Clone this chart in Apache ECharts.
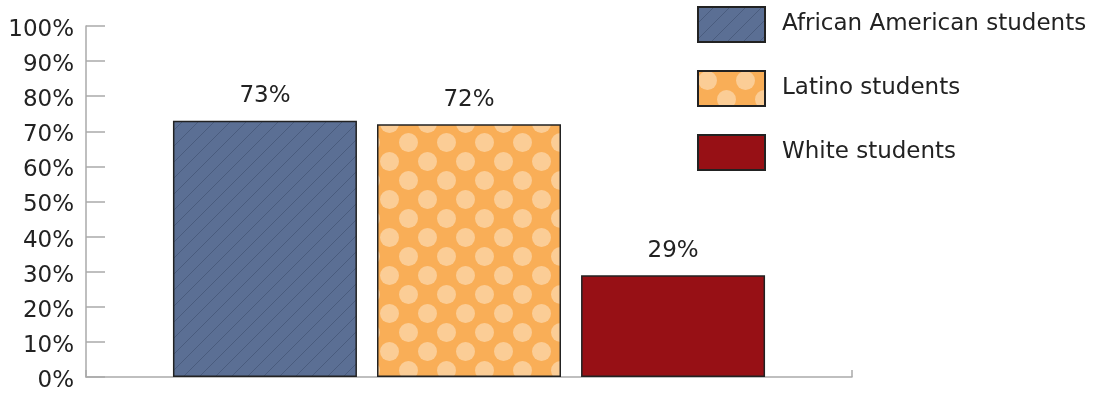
<!DOCTYPE html>
<html>
<head>
<meta charset="utf-8">
<script src="https://cdn.jsdelivr.net/npm/echarts@6/dist/echarts.min.js"></script>
<style>
  html, body { margin: 0; padding: 0; background: #fff; }
  #chart { width: 1094px; height: 393px; }
</style>
</head>
<body>
<div id="chart"></div>
<script>
  // data
  const categories = [''];
  const seriesNames = ['African American students', 'Latino students', 'White students'];
  const africanAmerican = [73];
  const latino = [72];
  const white = [29];
  const yTicks = [0, 10, 20, 30, 40, 50, 60, 70, 80, 90, 100];

  // hatched blue
  function hatchPattern() {
    const c = document.createElement('canvas');
    c.width = 16; c.height = 16;
    const ctx = c.getContext('2d');
    ctx.fillStyle = '#5b6f94';
    ctx.fillRect(0, 0, 16, 16);
    ctx.strokeStyle = '#4a5c7e';
    ctx.lineWidth = 1;
    ctx.beginPath();
    for (let k = -1; k <= 1; k++) {
      ctx.moveTo(k * 16, 16);
      ctx.lineTo(k * 16 + 16, 0);
    }
    ctx.stroke();
    return c;
  }

  // dotted orange
  function dotPattern() {
    const c = document.createElement('canvas');
    c.width = 38; c.height = 38;
    const ctx = c.getContext('2d');
    ctx.fillStyle = '#f9ae57';
    ctx.fillRect(0, 0, 38, 38);
    ctx.fillStyle = '#fbcd96';
    const pts = [[9.5, 9.5], [28.5, 28.5], [28.5 - 38, 28.5], [28.5, 28.5 - 38], [28.5 - 38, 28.5 - 38]];
    pts.forEach(p => {
      ctx.beginPath();
      ctx.arc(p[0], p[1], 9.5, 0, Math.PI * 2);
      ctx.fill();
    });
    return c;
  }

  const fills = [
    { image: hatchPattern(), repeat: 'repeat' },
    { image: dotPattern(), repeat: 'repeat' },
    '#971015'
  ];
  const values = [africanAmerican, latino, white];

  const chart = echarts.init(document.getElementById('chart'));
  const font = 'DejaVu Sans';

  const series = seriesNames.map((name, i) => ({
    name: name,
    type: 'bar',
    data: values[i],
    barWidth: 184,
    barGap: '10.9%',
    itemStyle: {
      color: fills[i],
      borderColor: '#222',
      borderWidth: 1.5
    },
    label: {
      show: true,
      position: 'top',
      distance: 13,
      formatter: '{c}%',
      color: '#222',
      fontSize: 23,
      fontFamily: font
    }
  }));

  chart.setOption({
    animation: false,
    textStyle: { fontFamily: font },
    legend: {
      orient: 'vertical',
      left: 697,
      top: 6,
      padding: 0,
      itemWidth: 67,
      itemHeight: 35,
      itemGap: 27,
      icon: 'rect',
      data: seriesNames,
      textStyle: { fontSize: 23, color: '#222', fontFamily: font, padding: [0, 0, 0, 12] }
    },
    grid: { left: 86, right: 242, top: 26, bottom: 16, containLabel: false },
    xAxis: {
      type: 'category',
      data: categories,
      axisLine: { lineStyle: { color: '#aaa', width: 1.5 } },
      axisTick: { show: true, inside: true, length: 7, lineStyle: { color: '#aaa', width: 1.5 } },
      axisLabel: { show: false }
    },
    yAxis: {
      type: 'value',
      min: yTicks[0],
      max: yTicks[yTicks.length - 1],
      interval: 10,
      axisLine: { show: true, lineStyle: { color: '#aaa', width: 1.5 } },
      axisTick: { show: true, inside: true, length: 19, lineStyle: { color: '#aaa', width: 1.5 } },
      splitLine: { show: false },
      axisLabel: {
        formatter: '{value}%', fontSize: 23, color: '#222', margin: 12, fontFamily: font,
        verticalAlign: 'top', lineHeight: 8
      }
    },
    series: series
  });
</script>
</body>
</html>
